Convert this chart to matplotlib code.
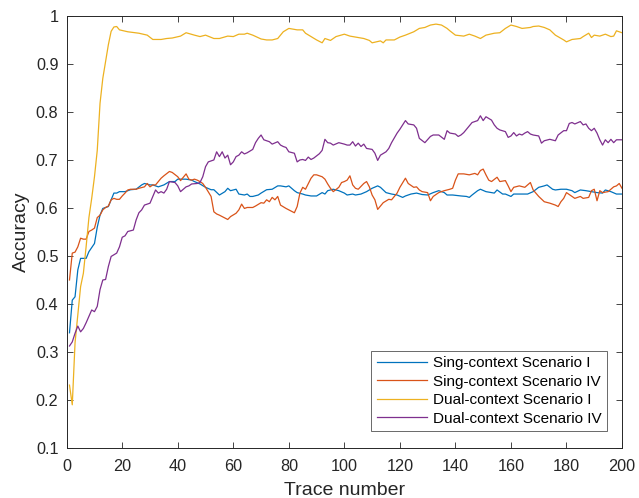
import matplotlib
matplotlib.use("Agg")
import matplotlib.pyplot as plt

plt.rcParams['font.family'] = ['Liberation Sans', 'DejaVu Sans']

# Sing-context Scenario I
t_s1 = [1,2,3,4,5,7,8,10,11,12,13,15,16,17,18,19,21,23,25,27,28,30,31,33,35,37,39,40,41,43,45,46,48,50,52,53,55,57,58,59,61,62,64,65,66,67,69,70,72,74,76,77,79,80,82,83,85,86,88,90,92,93,94,96,98,100,101,103,104,106,108,110,112,113,115,117,119,121,122,124,126,128,130,132,134,136,137,139,142,144,145,146,148,149,151,153,154,155,157,158,160,161,163,164,166,168,170,172,173,175,176,178,180,182,183,185,187,189,191,193,194,196,198,200]
v_s1 = [0.340,0.408,0.415,0.471,0.495,0.495,0.509,0.526,0.560,0.585,0.599,0.603,0.617,0.631,0.631,0.634,0.634,0.638,0.639,0.648,0.651,0.648,0.648,0.644,0.648,0.655,0.655,0.660,0.660,0.660,0.658,0.655,0.650,0.643,0.638,0.638,0.627,0.634,0.641,0.636,0.639,0.629,0.627,0.629,0.624,0.624,0.627,0.631,0.638,0.639,0.646,0.646,0.644,0.646,0.636,0.632,0.629,0.627,0.625,0.625,0.632,0.629,0.636,0.639,0.636,0.631,0.627,0.629,0.627,0.629,0.634,0.641,0.646,0.643,0.632,0.629,0.627,0.622,0.625,0.629,0.631,0.628,0.627,0.632,0.636,0.632,0.627,0.627,0.625,0.624,0.622,0.627,0.636,0.639,0.634,0.632,0.631,0.6375,0.629,0.629,0.624,0.629,0.629,0.629,0.629,0.634,0.643,0.646,0.648,0.639,0.6375,0.639,0.639,0.636,0.632,0.6375,0.636,0.634,0.632,0.631,0.6375,0.634,0.629,0.629]

# Sing-context Scenario IV
t_s4 = [1,2,3,4,5,6,7,8,9,10,11,12,13,14,15,16,17,18,19,20,21,22,23,25,26,28,29,30,31,32,34,35,37,38,40,41,42,43,44,45,46,47,48,49,50,52,53,54,55,56,58,59,61,62,63,64,65,67,68,70,71,72,73,74,75,76,77,79,80,82,83,84,85,86,88,89,90,91,92,93,94,95,96,98,99,100,101,102,103,104,105,107,108,109,110,111,112,113,114,116,117,118,119,120,122,123,125,126,127,128,130,131,132,134,136,138,139,140,141,143,145,147,148,149,150,151,152,153,155,156,158,159,160,161,163,165,166,167,168,170,172,174,176,177,178,179,180,182,183,185,186,188,189,190,191,192,193,195,197,198,199,200]
v_s4 = [0.450,0.506,0.508,0.519,0.537,0.535,0.535,0.551,0.554,0.558,0.580,0.585,0.596,0.601,0.604,0.617,0.620,0.618,0.618,0.625,0.631,0.6375,0.639,0.639,0.641,0.644,0.651,0.644,0.648,0.648,0.662,0.667,0.676,0.674,0.665,0.657,0.664,0.671,0.660,0.658,0.660,0.658,0.655,0.651,0.643,0.624,0.592,0.5875,0.585,0.582,0.576,0.582,0.589,0.596,0.608,0.599,0.601,0.601,0.604,0.611,0.610,0.617,0.613,0.622,0.617,0.624,0.606,0.599,0.596,0.590,0.603,0.631,0.643,0.639,0.662,0.669,0.669,0.667,0.665,0.660,0.650,0.641,0.634,0.643,0.653,0.655,0.658,0.667,0.648,0.641,0.639,0.651,0.655,0.644,0.627,0.617,0.597,0.604,0.611,0.618,0.617,0.624,0.631,0.643,0.662,0.651,0.643,0.644,0.6375,0.634,0.632,0.615,0.624,0.632,0.636,0.639,0.641,0.658,0.671,0.671,0.669,0.672,0.669,0.678,0.681,0.669,0.658,0.655,0.664,0.655,0.657,0.646,0.634,0.643,0.646,0.643,0.648,0.653,0.6375,0.624,0.613,0.610,0.606,0.603,0.613,0.620,0.632,0.624,0.620,0.624,0.620,0.622,0.636,0.639,0.615,0.636,0.632,0.634,0.644,0.646,0.651,0.641]

# Dual-context Scenario I
t_d1 = [1,2,3,5,6,7,8,9,10,11,12,13,14,15,16,17,18,19,22,26,29,31,34,36,38,41,43,46,48,50,53,55,58,60,62,64,65,67,70,72,74,76,78,80,83,85,86,88,90,92,93,95,97,100,102,104,107,109,110,113,114,115,118,120,122,125,127,129,131,133,135,137,138,140,143,145,147,149,151,154,156,158,160,162,164,167,168,170,172,174,176,179,180,182,185,186,188,189,190,192,194,196,197,198,200]
v_d1 = [0.231,0.190,0.319,0.436,0.464,0.520,0.580,0.620,0.665,0.720,0.818,0.870,0.905,0.940,0.968,0.977,0.978,0.971,0.967,0.964,0.960,0.951,0.951,0.953,0.954,0.958,0.965,0.960,0.957,0.960,0.953,0.953,0.958,0.957,0.962,0.962,0.964,0.960,0.952,0.950,0.950,0.953,0.967,0.974,0.971,0.971,0.964,0.957,0.950,0.944,0.953,0.949,0.957,0.962,0.958,0.956,0.953,0.949,0.944,0.948,0.944,0.950,0.950,0.956,0.960,0.967,0.974,0.976,0.981,0.983,0.981,0.974,0.969,0.960,0.958,0.962,0.958,0.953,0.960,0.964,0.965,0.974,0.981,0.978,0.974,0.976,0.978,0.979,0.976,0.971,0.960,0.950,0.946,0.951,0.953,0.957,0.964,0.955,0.960,0.958,0.962,0.957,0.958,0.969,0.965]

# Dual-context Scenario IV
t_d4 = [1,2,3,4,5,6,7,8,9,10,11,12,13,14,15,16,18,19,20,21,22,24,25,26,27,28,30,31,32,33,34,35,36,37,39,40,41,42,43,44,45,47,48,49,50,51,53,54,55,56,57,58,59,60,61,62,63,64,65,67,68,69,70,71,73,74,76,77,78,79,80,82,83,84,85,86,87,88,89,91,92,93,94,95,96,98,100,101,102,103,104,105,106,107,108,110,111,112,113,115,116,117,119,120,122,123,125,126,127,129,131,132,134,136,137,138,140,141,142,143,145,146,148,149,150,151,153,154,155,156,158,159,160,161,162,163,164,165,166,167,168,170,171,172,174,176,177,179,180,181,182,183,185,186,187,188,189,190,191,192,193,194,195,196,197,198,200]
v_d4 = [0.3125,0.321,0.339,0.354,0.342,0.349,0.361,0.374,0.3875,0.384,0.395,0.430,0.450,0.451,0.478,0.499,0.506,0.519,0.539,0.542,0.551,0.554,0.575,0.590,0.596,0.606,0.610,0.624,0.6375,0.631,0.634,0.631,0.639,0.655,0.653,0.646,0.634,0.639,0.644,0.646,0.650,0.651,0.653,0.665,0.686,0.696,0.700,0.717,0.707,0.717,0.704,0.710,0.690,0.696,0.707,0.710,0.717,0.7125,0.715,0.722,0.736,0.745,0.752,0.742,0.738,0.733,0.738,0.731,0.728,0.726,0.717,0.714,0.696,0.700,0.701,0.699,0.706,0.701,0.704,0.713,0.720,0.743,0.736,0.735,0.731,0.736,0.733,0.731,0.731,0.738,0.729,0.735,0.728,0.733,0.724,0.722,0.714,0.699,0.710,0.717,0.724,0.736,0.756,0.764,0.782,0.775,0.773,0.766,0.745,0.736,0.749,0.752,0.752,0.743,0.761,0.756,0.754,0.749,0.752,0.757,0.771,0.778,0.782,0.792,0.782,0.790,0.783,0.773,0.766,0.7625,0.759,0.747,0.750,0.757,0.750,0.754,0.752,0.756,0.759,0.754,0.752,0.750,0.735,0.740,0.743,0.740,0.752,0.761,0.761,0.776,0.778,0.775,0.780,0.773,0.775,0.766,0.761,0.766,0.756,0.742,0.731,0.742,0.736,0.743,0.736,0.742,0.742]

labels = ['Sing-context Scenario I', 'Sing-context Scenario IV',
          'Dual-context Scenario I', 'Dual-context Scenario IV']
colors = ['#0072BD', '#D95319', '#EDB120', '#7E2F8E']
x_ticks = [0, 20, 40, 60, 80, 100, 120, 140, 160, 180, 200]
y_ticks = [0.1, 0.2, 0.3, 0.4, 0.5, 0.6, 0.7, 0.8, 0.9, 1.0]
y_ticklabels = ['0.1', '0.2', '0.3', '0.4', '0.5', '0.6', '0.7', '0.8', '0.9', '1']

fig = plt.figure(figsize=(6.39, 4.98), dpi=100)
ax = fig.add_axes([0.1044, 0.1004, 0.869, 0.8676])

series = [(t_s1, v_s1), (t_s4, v_s4), (t_d1, v_d1), (t_d4, v_d4)]
for (t, v), lab, c in zip(series, labels, colors):
    ax.plot(t, v, color=c, lw=0.9, label=lab)

ax.set_xlim(0, 200)
ax.set_ylim(0.1, 1.0)
ax.set_xticks(x_ticks)
ax.set_yticks(y_ticks)
ax.set_yticklabels(y_ticklabels)
ax.tick_params(direction='in', top=True, right=True, labelsize=11.7, length=4.5,
               width=0.6, colors='#262626')
ax.tick_params(axis='x', pad=8)
ax.tick_params(axis='y', pad=6)
for s in ax.spines.values():
    s.set_linewidth(0.7)
    s.set_color('#262626')
ax.set_xlabel('Trace number', fontsize=14, color='#262626', labelpad=6)
ax.set_ylabel('Accuracy', fontsize=14, color='#262626', labelpad=4)

leg = ax.legend(loc='lower right', bbox_to_anchor=(0.973, 0.039), fontsize=11,
                frameon=True, fancybox=False, edgecolor='#262626', handlelength=3.3,
                handletextpad=0.4, borderpad=0.35, labelspacing=0.3, borderaxespad=0)
leg.get_frame().set_linewidth(0.6)

fig.savefig('out.png', dpi=100)
